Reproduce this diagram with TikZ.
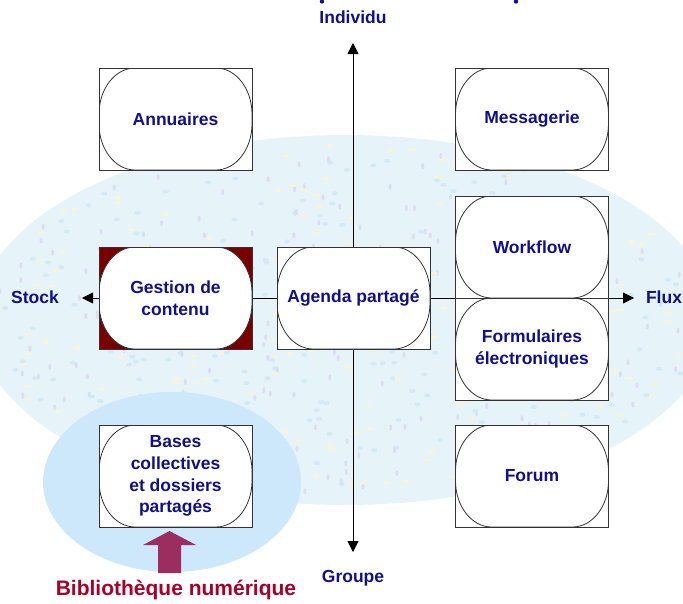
\documentclass[tikz,border=0pt]{standalone}
\usepackage{fontspec}
\setmainfont{Liberation Sans}
\usetikzlibrary{arrows.meta}
\definecolor{navy}{RGB}{16,16,138}
\definecolor{crimson}{RGB}{170,0,40}
\definecolor{plum}{RGB}{155,45,95}
\definecolor{hilite}{RGB}{204,232,250}
\definecolor{pale}{RGB}{230,243,248}
\definecolor{speckA}{RGB}{248,244,214}
\definecolor{speckB}{RGB}{222,220,242}
\definecolor{speckC}{RGB}{210,234,245}
\definecolor{darkred}{RGB}{120,0,0}
\begin{document}
\begin{tikzpicture}[x=1pt,y=-1pt,
  lbl/.style={text=navy,font=\bfseries\fontsize{17.5}{21.5}\selectfont,inner sep=0pt},
  box/.style={draw=black!80,line width=0.8pt,fill=white,minimum width=153pt,minimum height=102pt,
    inner sep=0pt,align=center,text=navy,font=\bfseries\fontsize{17.5}{21.7}\selectfont,
    path picture={
      \coordinate (nw) at (path picture bounding box.north west);
      \coordinate (ne) at (path picture bounding box.north east);
      \coordinate (sw) at (path picture bounding box.south west);
      \coordinate (se) at (path picture bounding box.south east);
      \draw[line width=0.8pt,fill=white]
        ([xshift=36pt]nw) -- ([xshift=-36pt]ne)
        .. controls ([xshift=-16pt]ne) and ([yshift=-21pt]ne) .. ([yshift=-46pt]ne)
        -- ([yshift=46pt]se)
        .. controls ([yshift=21pt]se) and ([xshift=-16pt]se) .. ([xshift=-36pt]se)
        -- ([xshift=36pt]sw)
        .. controls ([xshift=16pt]sw) and ([yshift=21pt]sw) .. ([yshift=46pt]sw)
        -- ([yshift=-46pt]nw)
        .. controls ([yshift=-21pt]nw) and ([xshift=16pt]nw) .. cycle;}},
  axis/.style={line width=0.8pt,{Triangle[length=11pt,width=11pt]}-{Triangle[length=11pt,width=11pt]}}]
\useasboundingbox (0,0) rectangle (683,603);
% background
\begin{scope}
\clip (0,0) rectangle (683,603);
\fill[pale] (345,320) ellipse [x radius=368, y radius=185];
\pgfmathsetseed{7}
\foreach \i in {1,...,600} {
  \pgfmathsetmacro\ang{rnd*360}
  \pgfmathsetmacro\rad{sqrt(rnd)*0.97}
  \pgfmathsetmacro\px{345+368*\rad*cos(\ang)}
  \pgfmathsetmacro\py{320+185*\rad*sin(\ang)}
  \pgfmathtruncatemacro\kind{mod(\i,3)}
  \ifcase\kind
    \fill[speckA] (\px,\py) ellipse [x radius=3.5, y radius=1.5];
  \or
    \fill[speckB] (\px,\py) ellipse [x radius=1.5, y radius=3];
  \else
    \fill[speckC] (\px,\py) ellipse [x radius=3, y radius=2];
  \fi
}
\fill[hilite] (172,482) ellipse [x radius=129, y radius=90];
\end{scope}
% remnants of the cut-off title
\fill[navy] (322,1.5) circle (2.2);
\fill[navy] (516,1.5) circle (2.2);
% axes
\coordinate (top) at (353,43);
\coordinate (bot) at (353,552);
\coordinate (lft) at (82,298);
\coordinate (rgt) at (634,298);
\draw[axis] (top) -- (bot);
\draw[axis] (lft) -- (rgt);
% axis labels
\node[lbl] (indiv) at (353,17) {Individu};
\node[lbl] (groupe) at (353,578) {Groupe};
\node[lbl] (stock) at (35,297) {Stock};
\node[lbl] (flux) at (664,297) {Flux};
% boxes
\node[box] (ann) at (175.5,119) {Annuaires};
\node[box] (mes) at (532,119) {Messagerie};
\node[box,fill=darkred] (gest) at (175.5,298) {Gestion de\\contenu};
\node[box] (agenda) at (353.5,298) {Agenda partagé};
\node[box] (work) at (532,247) {Workflow};
\node[box] (form) at (532,349) {Formulaires\\électroniques};
\node[box] (bases) at (175.5,476) {Bases\\collectives\\et dossiers\\partagés};
\node[box] (forum) at (532,476) {Forum};
% block arrow and library label
\node[text=crimson,font=\bfseries\fontsize{21}{25}\selectfont,inner sep=0pt] (biblio) at (176,590) {Bibliothèque numérique};
\fill[plum] (158,573) -- (158,545) -- (143,545) -- (169.5,531) -- (196,545) -- (181,545) -- (181,573) -- cycle;
\end{tikzpicture}
\end{document}
